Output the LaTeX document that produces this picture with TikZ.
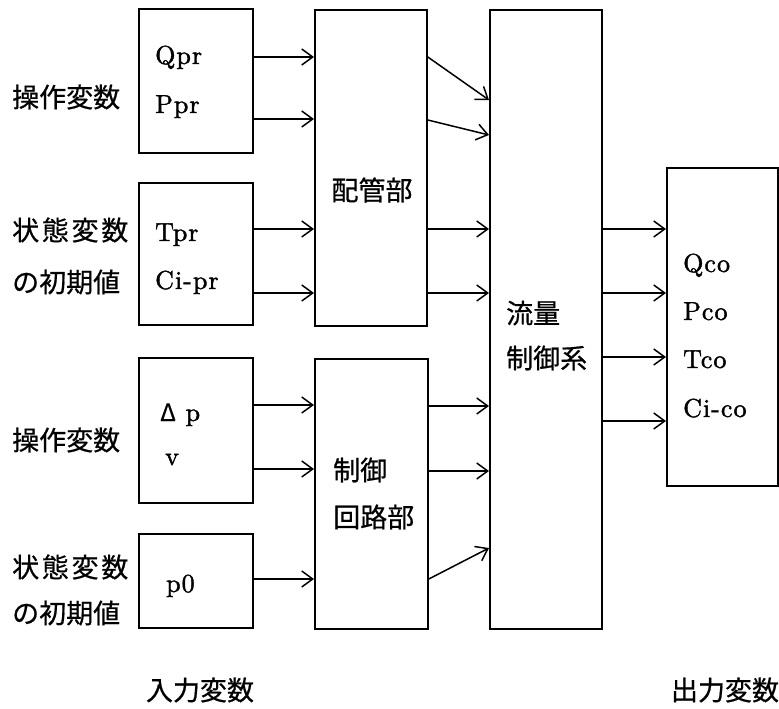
\documentclass[tikz,border=0pt]{standalone}
\usepackage{fontspec}
\newfontfamily\jp[FakeBold=0.6]{Noto Sans CJK JP}
\newfontfamily\jpw[FakeBold=0.6,LetterSpace=10]{Noto Sans CJK JP}
\newfontfamily\lat[LetterSpace=4,FakeBold=1.5]{lmroman10-regular.otf}
\usetikzlibrary{arrows.meta}
\begin{document}
\begin{tikzpicture}[x=1pt,y=-1pt,
  box/.style={draw,line width=1.8pt,inner sep=0pt,anchor=north west},
  arr/.style={line width=1.5pt,-{Straight Barb[length=11pt,width=16pt,line width=1.5pt]}},
  lat/.style={inner sep=0pt,anchor=base west,font=\lat\fontsize{26}{30}\selectfont},
  jpt/.style={inner sep=0pt,anchor=west,font=\jp\fontsize{27}{30}\selectfont},
  jpw/.style={inner sep=0pt,anchor=west,font=\jpw\fontsize{27}{30}\selectfont},
  jpc/.style={inner sep=0pt,anchor=center,font=\jp\fontsize{27}{30}\selectfont}]
\useasboundingbox (0,0) rectangle (779,709);
% boxes
\node[box,minimum width=114pt,minimum height=144pt] (b1) at (138,8) {};
\node[box,minimum width=114pt,minimum height=142pt] (b2) at (138,182) {};
\node[box,minimum width=114pt,minimum height=145pt] (b3) at (138,357) {};
\node[box,minimum width=114pt,minimum height=94pt] (b4) at (138,533) {};
\node[box,minimum width=112pt,minimum height=316pt] (pipe) at (314,9) {};
\node[box,minimum width=113pt,minimum height=270pt] (ctrl) at (314,358) {};
\node[box,minimum width=112pt,minimum height=619pt] (flow) at (489,9) {};
\node[box,minimum width=111pt,minimum height=318pt] (out) at (666,167) {};
% texts in boxes
\node[lat] (qpr) at (155,64) {Qpr};
\node[lat] (ppr) at (155,113) {Ppr};
\node[lat] (tpr) at (155,241) {Tpr};
\node[lat] (cipr) at (155,289) {Ci-pr};
\node[lat] (dp) at (160,421) {{\jp\fontsize{24}{28}\selectfont Δ} p};
\node[lat] (v) at (165,465) {v};
\node[lat] (p0) at (166,592) {p0};
\node[lat] (qco) at (683,272) {Qco};
\node[lat] (pco) at (683,320) {Pco};
\node[lat] (tco) at (683,368) {Tco};
\node[lat] (cico) at (683,417) {Ci-co};
\node[jpc] (pipet) at (372,190) {配管部};
\node[jpt] (fl1) at (506,313) {流量};
\node[jpt] (fl2) at (506,358) {制御系};
\node[jpt] (ct1) at (333,470) {制御};
\node[jpt] (ct2) at (333,517) {回路部};
% side labels
\node[jpt] (l1) at (12,97) {操作変数};
\node[jpw] (l2) at (12,230) {状態変数};
\node[jpt] (l3) at (12,282) {の初期値};
\node[jpt] (l4) at (12,440) {操作変数};
\node[jpw] (l5) at (12,567) {状態変数};
\node[jpt] (l6) at (12,613) {の初期値};
\node[jpc] (inp) at (200,690) {入力変数};
\node[jpc] (outp) at (725,690) {出力変数};
% arrows: inputs to pipe
\draw[arr] (b1.east |- 0,57) -- (pipe.west |- 0,57);
\draw[arr] (b1.east |- 0,119) -- (pipe.west |- 0,119);
\draw[arr] (b2.east |- 0,229) -- (pipe.west |- 0,229);
\draw[arr] (b2.east |- 0,293) -- (pipe.west |- 0,293);
% inputs to control
\draw[arr] (b3.east |- 0,405) -- (ctrl.west |- 0,405);
\draw[arr] (b3.east |- 0,469) -- (ctrl.west |- 0,469);
\draw[arr] (b4.east |- 0,579) -- (ctrl.west |- 0,579);
% pipe to flow
\draw[arr] (pipe.east |- 0,57) -- (flow.west |- 0,100);
\draw[arr] (pipe.east |- 0,120) -- (flow.west |- 0,135);
\draw[arr] (pipe.east |- 0,229) -- (flow.west |- 0,229);
\draw[arr] (pipe.east |- 0,293) -- (flow.west |- 0,293);
% control to flow
\draw[arr] (ctrl.east |- 0,406) -- (flow.west |- 0,406);
\draw[arr] (ctrl.east |- 0,471) -- (flow.west |- 0,471);
\draw[arr] (ctrl.east |- 0,579) -- (flow.west |- 0,548);
% flow to output
\draw[arr] (flow.east |- 0,229) -- (out.west |- 0,229);
\draw[arr] (flow.east |- 0,293) -- (out.west |- 0,293);
\draw[arr] (flow.east |- 0,357) -- (out.west |- 0,357);
\draw[arr] (flow.east |- 0,421) -- (out.west |- 0,421);
\end{tikzpicture}
\end{document}
